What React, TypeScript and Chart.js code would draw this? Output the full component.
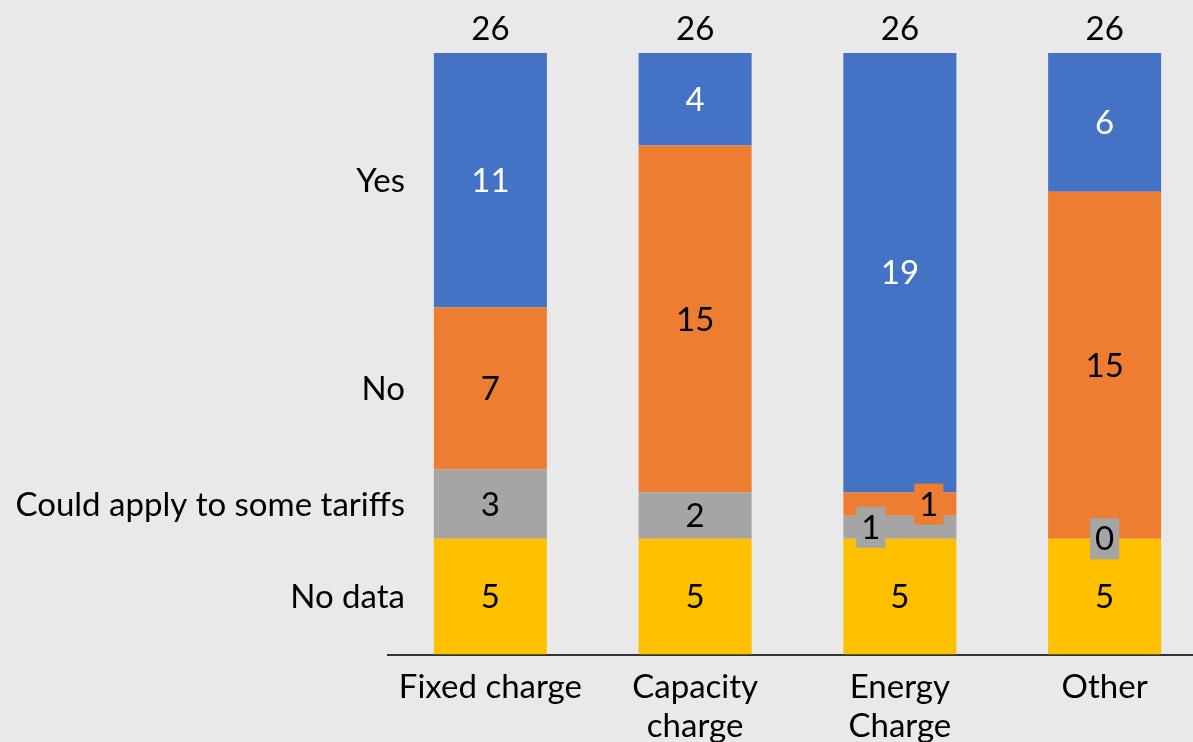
import React, { useEffect, useRef } from "react";
import { Chart, registerables } from "chart.js";

Chart.register(...registerables);

// ---- data ----
const categories: (string | string[])[] = ["Fixed charge", ["Capacity", "charge"], ["Energy", "Charge"], "Other"];
const seriesNames = ["No data", "Could apply to some tariffs", "No", "Yes"];
const noDataValues = [5, 5, 5, 5];
const couldApplyValues = [3, 2, 1, 0];
const noValues = [7, 15, 1, 15];
const yesValues = [11, 4, 19, 6];
const seriesColors = ["#FFC000", "#A5A5A5", "#ED7D31", "#4472C4"];
const labelColors = ["#000000", "#000000", "#000000", "#FFFFFF"];
// side to which a label is nudged when its segment is too thin to hold it
const thinLabelSide = [0, -1, 1, 0];

const FONT = "Lato";
const FS = 33;
const CANVAS_W = 1207;
const CANVAS_H = 800;
const AXIS_Y = 654.5;

const valueLabels = {
  id: "valueLabels",
  afterDatasetsDraw(chart: any) {
    const ctx = chart.ctx;
    ctx.save();
    ctx.font = `${FS}px ${FONT}`;
    ctx.textAlign = "center";
    ctx.textBaseline = "middle";
    const ds = chart.data.datasets;
    ds.forEach((d: any, di: number) => {
      const meta = chart.getDatasetMeta(di);
      meta.data.forEach((el: any, i: number) => {
        const v = d.data[i];
        const { x, y, base } = el.getProps(["x", "y", "base"], true);
        const h = Math.abs(base - y);
        let cx = x;
        const cy = v === 0 ? y : (y + base) / 2;
        const thin = h < FS * 1.2;
        if (thin) {
          if (v !== 0) cx = x + thinLabelSide[di] * 29;
          const w = ctx.measureText(String(v)).width + 10;
          const bh = 41;
          ctx.fillStyle = d.backgroundColor;
          ctx.fillRect(cx - w / 2, cy - bh / 2, w, bh);
        }
        ctx.fillStyle = labelColors[di];
        ctx.fillText(String(v), cx, cy + 1);
      });
    });
    // totals
    const last = chart.getDatasetMeta(ds.length - 1);
    last.data.forEach((el: any, i: number) => {
      let total = 0;
      ds.forEach((d: any) => (total += d.data[i]));
      ctx.fillStyle = "#000000";
      ctx.fillText(String(total), el.x, el.y - 24);
    });
    // series names at the left, aligned with the first bar's segments
    ctx.textAlign = "right";
    ds.forEach((d: any, di: number) => {
      const el = chart.getDatasetMeta(di).data[0];
      const { y, base } = el.getProps(["y", "base"], true);
      ctx.fillStyle = "#000000";
      ctx.fillText(d.label, chart.chartArea.left + 17, (y + base) / 2 + 1);
    });
    ctx.restore();
  },
};

export default function App() {
  const ref = useRef<HTMLCanvasElement>(null);
  useEffect(() => {
    if (!ref.current) return;
    const values = [noDataValues, couldApplyValues, noValues, yesValues];
    const chart = new Chart(ref.current, {
      type: "bar",
      data: {
        labels: categories,
        datasets: values.map((vals, i) => ({
          label: seriesNames[i],
          data: vals,
          backgroundColor: seriesColors[i],
          borderWidth: 0,
          barPercentage: 0.552,
          categoryPercentage: 1,
        })),
      },
      options: {
        responsive: false,
        maintainAspectRatio: false,
        animation: false,
        layout: { padding: { left: 388, top: 53, right: 0, bottom: 0 } },
        plugins: { legend: { display: false }, tooltip: { enabled: false } },
        scales: {
          x: {
            stacked: true,
            grid: { display: false, drawTicks: false },
            border: { display: true, color: "#333333", width: 2 },
            ticks: {
              color: "#000000",
              font: { family: FONT, size: FS, lineHeight: 1.16 },
              padding: 14,
              autoSkip: false,
              maxRotation: 0,
            },
            afterFit: (scale: any) => {
              scale.height = CANVAS_H - AXIS_Y;
            },
          },
          y: {
            stacked: true,
            display: false,
            min: 0,
            max: 26,
          },
        },
      },
      plugins: [valueLabels],
    });
    return () => chart.destroy();
  }, []);
  return (
    <div
      style={{
        position: "fixed",
        left: 0,
        top: 0,
        width: 1193,
        height: 742,
        overflow: "hidden",
        background: "#E9E9E9",
      }}
    >
      <canvas ref={ref} width={CANVAS_W} height={CANVAS_H} style={{ display: "block" }} />
    </div>
  );
}
